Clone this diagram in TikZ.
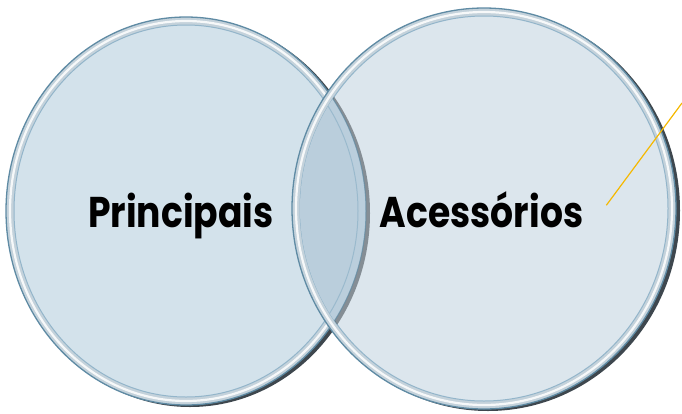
\documentclass[tikz,border=0pt]{standalone}
\usepackage{fontspec}
\newfontfamily\vennfont[FakeStretch=0.84]{Poppins}
\usetikzlibrary{positioning}
\definecolor{leftfill}{HTML}{D3E2EB}
\definecolor{rightfill}{HTML}{DCE6ED}
\definecolor{lensfill}{HTML}{BACEDC}
\definecolor{rimblue}{HTML}{5F8BA4}
\definecolor{innerblue}{HTML}{93B5CA}
\definecolor{rimband}{HTML}{C4D2DB}
\definecolor{shadowgray}{HTML}{3E474E}
\definecolor{calloutyellow}{HTML}{F5B800}
\tikzset{
  discshadow/.style={fill=shadowgray},
  discrim/.style={fill=rimband,draw=rimblue,line width=1.3pt},
  disclight/.style={draw=white,line width=2.2pt,opacity=.85},
  discinner/.style={draw=innerblue,line width=1pt},
  vennlabel/.style={font=\vennfont\bfseries\fontsize{43}{43}\selectfont,anchor=base,inner sep=0pt},
  callout/.style={draw=calloutyellow,line width=1.2pt}
}
\begin{document}
\begin{tikzpicture}[x=1pt,y=-1pt]
\useasboundingbox (0,0) rectangle (682,413);
\coordinate (lc) at (186,211);
\coordinate (rc) at (484,208.5);
% left disc
\fill[discshadow] ([shift={(4,2)}]lc) ellipse [x radius=180,y radius=194];
\draw[discrim] (lc) ellipse [x radius=180,y radius=194];
\draw[disclight] (lc) ellipse [x radius=176,y radius=190];
\fill[leftfill] (lc) ellipse [x radius=172,y radius=186];
\draw[discinner] (lc) ellipse [x radius=172,y radius=186];
% right disc
\fill[discshadow] ([shift={(4,2)}]rc) ellipse [x radius=192,y radius=200.5];
\draw[discrim] (rc) ellipse [x radius=192,y radius=200.5];
\draw[disclight] (rc) ellipse [x radius=188,y radius=196.5];
\fill[rightfill] (rc) ellipse [x radius=184,y radius=192.5];
\draw[discinner] (rc) ellipse [x radius=184,y radius=192.5];
% overlap
\begin{scope}
\clip (rc) ellipse [x radius=184,y radius=192.5];
\fill[lensfill] (lc) ellipse [x radius=180,y radius=194];
\fill[discshadow,opacity=.55,even odd rule] ([shift={(4,2)}]lc) ellipse [x radius=180,y radius=194]
  (lc) ellipse [x radius=180,y radius=194];
\draw[rimblue,line width=1pt,opacity=.7] (lc) ellipse [x radius=180,y radius=194];
\draw[discinner,opacity=.8] (lc) ellipse [x radius=172,y radius=186];
\end{scope}
\node[vennlabel] (princ) at (181,227) {Principais};
\node[vennlabel,inner xsep=23pt] (acc) at (481.5,227) {Acessórios};
\coordinate (tip) at (682,103);
\draw[callout] ([yshift=4pt]acc.east) -- (tip);
\end{tikzpicture}
\end{document}
